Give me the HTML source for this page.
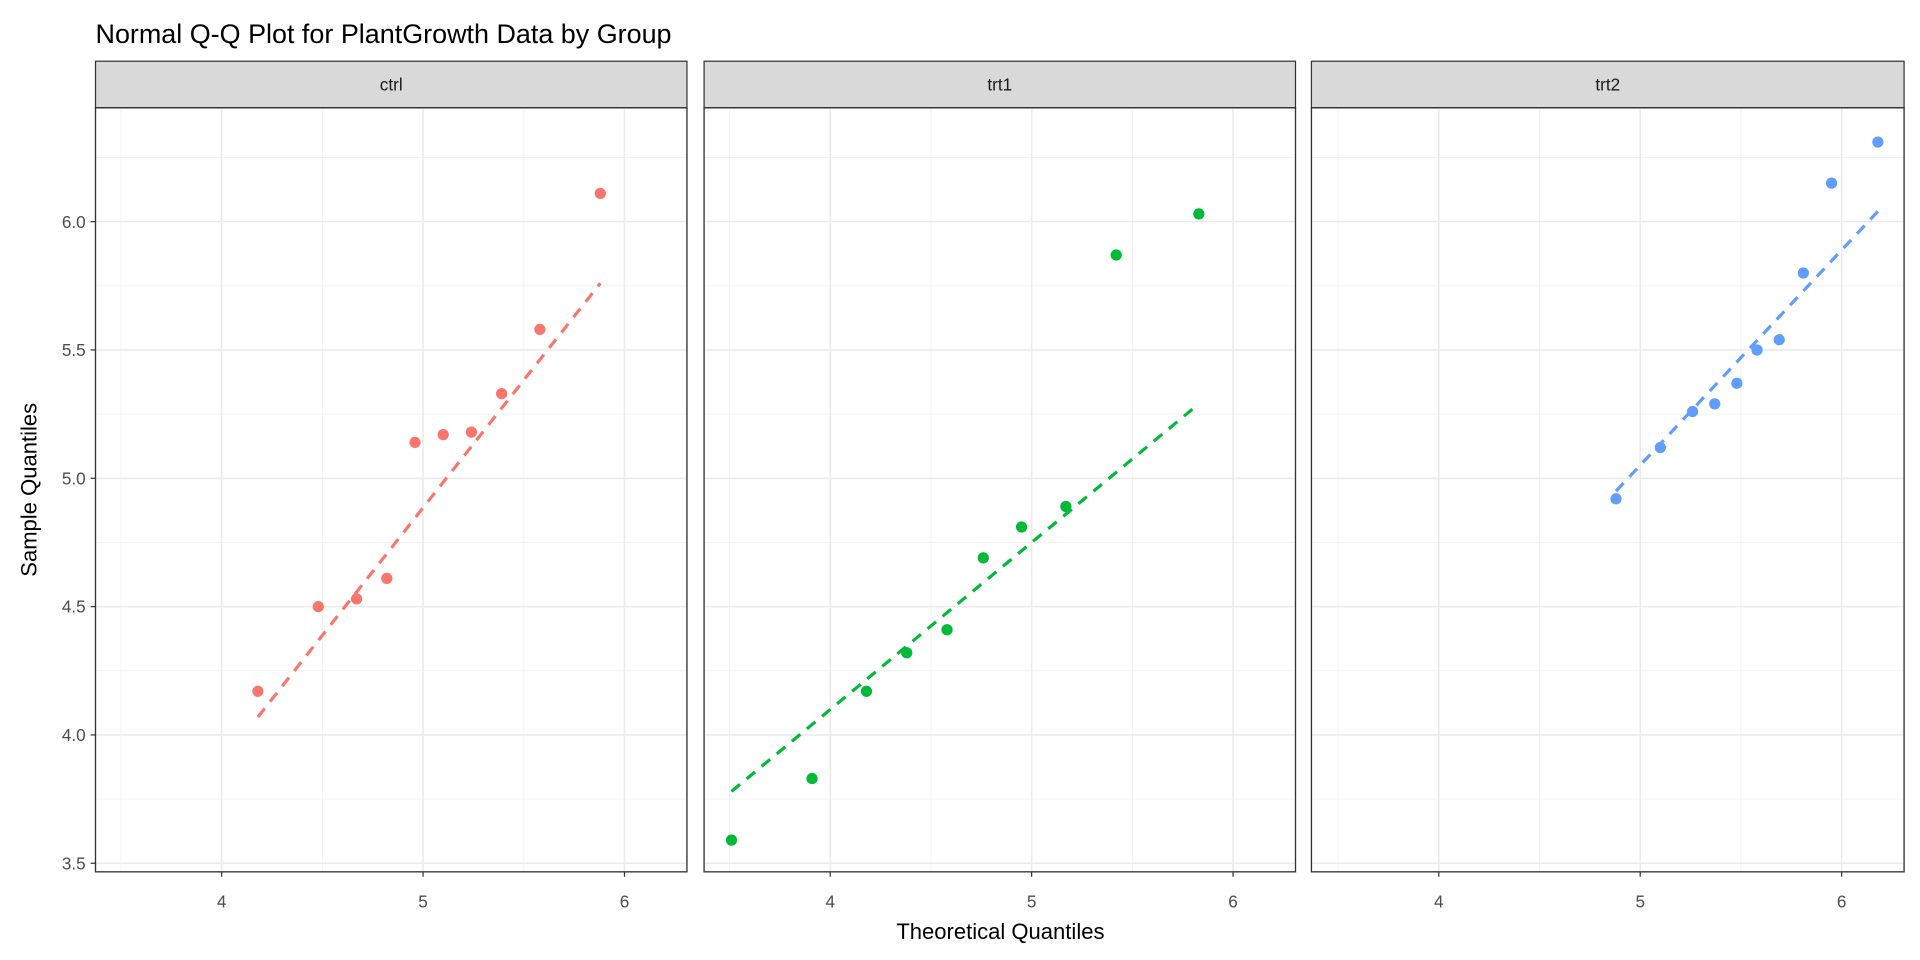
<!DOCTYPE html>
<html><head><meta charset="utf-8"><style>html,body{margin:0;padding:0;background:#fff}svg{display:block}</style></head>
<body>
<svg id="s" xmlns="http://www.w3.org/2000/svg" width="1920" height="960" viewBox="0 0 1568 784" font-family="Liberation Sans, Arial, sans-serif">
<rect width="1568" height="784" fill="#fff"/>
<text x="78" y="35" font-size="22" fill="#000">Normal Q-Q Plot for PlantGrowth Data by Group</text>
<text x="817" y="767" font-size="18" text-anchor="middle" fill="#000">Theoretical Quantiles</text>
<text transform="translate(30,400) rotate(-90)" font-size="18" text-anchor="middle" fill="#000">Sample Quantiles</text>
<g id="g"></g>
</svg>
<script>
const g=document.getElementById('g');let h='';
const Y=v=>181+(6-v)*209.6;
const panels=[
{x0:78,x1:561,off:0,name:'ctrl',c:'#F8766D',tx:[4.18,4.48,4.67,4.82,4.96,5.10,5.24,5.39,5.58,5.88],ty:[4.17,4.50,4.53,4.61,5.14,5.17,5.18,5.33,5.58,6.11],l:[4.18,4.07,5.88,5.76]},
{x0:575,x1:1058,off:497,name:'trt1',c:'#00BA38',tx:[3.51,3.91,4.18,4.38,4.58,4.76,4.95,5.17,5.42,5.83],ty:[3.59,3.83,4.17,4.32,4.41,4.69,4.81,4.89,5.87,6.03],l:[3.51,3.78,5.83,5.29]},
{x0:1071,x1:1555,off:994,name:'trt2',c:'#619CFF',tx:[4.88,5.10,5.26,5.37,5.48,5.58,5.69,5.81,5.95,6.18],ty:[4.92,5.12,5.26,5.29,5.37,5.50,5.54,5.80,6.15,6.31],l:[4.88,4.95,6.18,6.04]}];
panels.forEach(p=>{
 const X=v=>181+p.off+(v-4)*164.5;
 h+=`<rect x="${p.x0}" y="50" width="${p.x1-p.x0}" height="38" fill="#D9D9D9" stroke="#333" stroke-width="1"/>`;
 h+=`<text x="${(p.x0+p.x1)/2}" y="74" font-size="14" text-anchor="middle" fill="#1A1A1A">${p.name}</text>`;
 for(let v=3.75;v<=6.3;v+=0.5)h+=`<line x1="${p.x0}" x2="${p.x1}" y1="${Y(v)}" y2="${Y(v)}" stroke="#F0F0F0" stroke-width="0.7"/>`;
 for(let v=3.5;v<=6.45;v+=0.5)h+=`<line x1="${X(v)}" x2="${X(v)}" y1="88" y2="712" stroke="#F0F0F0" stroke-width="0.7"/>`;
 for(let v=3.5;v<=6.01;v+=0.5)h+=`<line x1="${p.x0}" x2="${p.x1}" y1="${Y(v)}" y2="${Y(v)}" stroke="#EBEBEB" stroke-width="1.3"/>`;
 for(let v=4;v<=6;v++){h+=`<line x1="${X(v)}" x2="${X(v)}" y1="88" y2="712" stroke="#EBEBEB" stroke-width="1.3"/>`;
  h+=`<line x1="${X(v)}" x2="${X(v)}" y1="712" y2="716" stroke="#333"/>`;
  h+=`<text x="${X(v)}" y="741" font-size="14" text-anchor="middle" fill="#4D4D4D">${v}</text>`;}
 h+=`<line x1="${X(p.l[0])}" y1="${Y(p.l[1])}" x2="${X(p.l[2])}" y2="${Y(p.l[3])}" stroke="${p.c}" stroke-width="2.6" stroke-dasharray="9,7"/>`;
 p.tx.forEach((t,i)=>h+=`<circle cx="${X(t)}" cy="${Y(p.ty[i])}" r="4.6" fill="${p.c}"/>`);
 h+=`<rect x="${p.x0}" y="88" width="${p.x1-p.x0}" height="624" fill="none" stroke="#333" stroke-width="1.1"/>`;
});
for(let v=3.5;v<=6.01;v+=0.5){h+=`<line x1="74" x2="78" y1="${Y(v)}" y2="${Y(v)}" stroke="#333"/>`;
 h+=`<text x="70" y="${Y(v)+5}" font-size="14" text-anchor="end" fill="#4D4D4D">${v.toFixed(1)}</text>`;}
g.innerHTML=h;
</script>
</body></html>
